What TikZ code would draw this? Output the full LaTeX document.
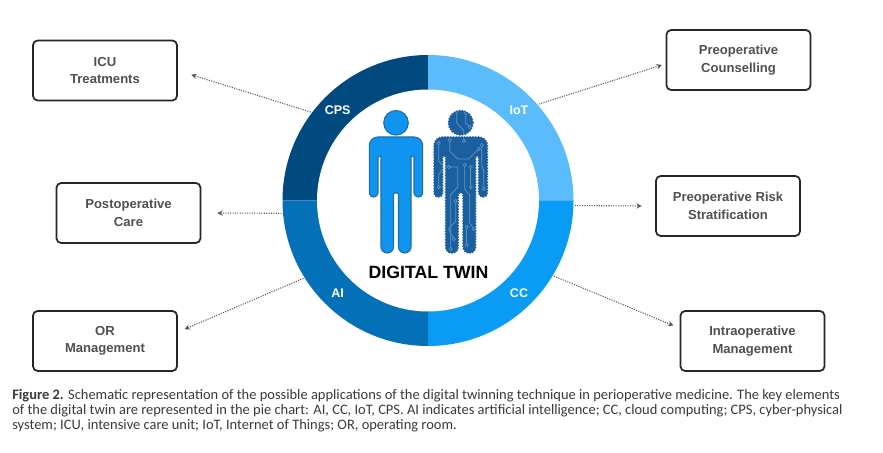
\documentclass[tikz,border=0pt]{standalone}
\usepackage{fontspec}
\setmainfont{Liberation Sans}
\newfontfamily\captionfont{Carlito}
\usetikzlibrary{positioning}
\definecolor{cpsblue}{HTML}{004A80}
\definecolor{iotblue}{HTML}{5BBCFB}
\definecolor{ccblue}{HTML}{0A9BF5}
\definecolor{aiblue}{HTML}{0470B8}
\definecolor{humanblue}{HTML}{0F94F0}
\definecolor{humanedge}{HTML}{1F6DA8}
\definecolor{twinblue}{HTML}{1C5F9F}
\definecolor{traceblue}{HTML}{5C97C8}
\definecolor{boxtext}{HTML}{505050}
\definecolor{linkgray}{HTML}{555555}
\definecolor{captiontext}{HTML}{3A3A3A}
\tikzset{
	appbox/.style={draw=black!85, line width=1.3pt, rounded corners=3.5pt, fill=white, minimum width=108pt, minimum height=45pt, inner sep=0pt, align=center, text=boxtext, font=\fontsize{9.8pt}{13pt}\selectfont\bfseries},
	link/.style={->, densely dotted, line width=0.8pt, draw=linkgray},
	ringlabel/.style={text=white, inner sep=0pt, font=\fontsize{9.4pt}{11pt}\selectfont\bfseries},
	trace/.style={draw=traceblue, line width=0.55pt},
}
% outline of one figure, origin at the middle of the shoulders
\newcommand{\personshape}{
	(0,14.2) circle (12.3)
	(0,0) [rounded corners=6.5pt] -- (26.7,0) [rounded corners=3pt] -- (26.7,-60) -- (18,-60) [rounded corners=0.8pt] -- (18,-19) -- (15,-19) [rounded corners=4.5pt] -- (15,-116) -- (2.5,-116) [rounded corners=0.8pt] -- (2.5,-56) -- (-2.5,-56) [rounded corners=4.5pt] -- (-2.5,-116) -- (-15,-116) [rounded corners=0.8pt] -- (-15,-19) -- (-18,-19) [rounded corners=3pt] -- (-18,-60) -- (-26.7,-60) [rounded corners=6.5pt] -- (-26.7,0) -- cycle
}
\begin{document}
\begin{tikzpicture}[x=0.75pt, y=0.75pt, >=stealth]
	\fill[white] (0,0) rectangle (883,453);
	\useasboundingbox (0,0) rectangle (883,453);
	% ring
	\fill[cpsblue] (428,252.5) -- (282.5,252.5) arc[start angle=180, end angle=90, radius=145.5] -- cycle;
	\fill[iotblue] (428,252.5) -- (428,398) arc[start angle=90, end angle=0, radius=145.5] -- cycle;
	\fill[ccblue] (428,252.5) -- (573.5,252.5) arc[start angle=0, end angle=-90, radius=145.5] -- cycle;
	\fill[aiblue] (428,252.5) -- (428,107) arc[start angle=-90, end angle=-180, radius=145.5] -- cycle;
	\fill[white] (428,252.5) circle (111);
	\node[circle, minimum size=220pt, inner sep=0pt] (ring) at (428,252.5) {};
	\node[ringlabel] (cps) at (337.7,343) {CPS};
	\node[ringlabel] (iot) at (519,343) {IoT};
	\node[ringlabel] (ai) at (337.7,160) {AI};
	\node[ringlabel] (cc) at (519,160) {CC};
	% human
	\begin{scope}[shift={(396,316)}]
		\filldraw[fill=humanblue, draw=humanedge, line width=0.8pt] \personshape;
	\end{scope}
	% twin
	\begin{scope}[shift={(460.7,316)}]
		\fill[twinblue] \personshape;
		\begin{scope}
			\clip \personshape;
			\draw[trace] (-4,26) -- (-4,14) -- (3,7) -- (3,-4);
			\draw[trace] (5,24) -- (5,14) -- (9,10);
			\draw[trace] (-22,-6) -- (-22,-24) -- (-17,-30) -- (-22,-38) -- (-22,-50);
			\draw[trace] (-11,-3) -- (-11,-14) -- (-3,-22) -- (8,-22) -- (18,-12);
			\draw[trace] (-12,-30) -- (-3,-30) -- (-3,-50) -- (-10,-58) -- (-10,-112);
			\draw[trace] (4,-28) -- (4,-52) -- (9,-58) -- (9,-86) -- (13,-92);
			\draw[trace] (10,-30) -- (10,-50);
			\draw[trace] (21,-8) -- (21,-28) -- (23,-34) -- (23,-52);
			\draw[trace] (-5,-64) -- (-5,-84) -- (-12,-92) -- (-7,-102);
			\draw[trace] (6,-90) -- (6,-108);
			\foreach \tx/\ty in {-4/26, 5/24, 9/10, 3/-4, -22/-6, -17/-30, -22/-50, -11/-3, 18/-12, -12/-30, 4/-28, 10/-30, 13/-92, 21/-8, 23/-52, -5/-64, -7/-102, 6/-90, 6/-108, 10/-50, -10/-112} {
				\filldraw[fill=twinblue, draw=traceblue, line width=0.5pt] (\tx,\ty) circle (1.7);
			}
		\end{scope}
		\draw[twinblue, line width=1.1pt, densely dotted] \personshape;
	\end{scope}
	\node[inner sep=0pt, font=\fontsize{13.3pt}{15pt}\selectfont\bfseries] (title) at (428.5,181) {DIGITAL TWIN};
	% boxes
	\node[appbox] (icu) at (105,382.5) {ICU\\Treatments};
	\node[appbox] (counsel) at (738.5,393) {Preoperative\\Counselling};
	\node[appbox] (postop) at (128.5,240) {Postoperative\\Care};
	\node[appbox] (risk) at (728,247) {Preoperative Risk\\Stratification};
	\node[appbox] (ormgmt) at (105,112) {OR\\Management};
	\node[appbox] (intraop) at (752.5,112) {Intraoperative\\Management};
	% arrows
	\draw[link, shorten >=10.5pt] (ring.143) -- (icu.east);
	\draw[link, shorten >=3pt] (ring.41) -- (counsel.183);
	\draw[link, shorten >=12pt] (ring.185) -- (postop.east);
	\draw[link, shorten >=10pt] (ring.-2) -- (risk.west);
	\draw[link, shorten >=5.5pt] (ring.212) -- (ormgmt.7);
	\draw[link, shorten >=5pt] (ring.-31) -- (intraop.170);
	% caption
	\node[anchor=north west, inner sep=0pt, align=left, text=captiontext, font=\captionfont\fontsize{10.85pt}{11pt}\selectfont] (caption) at (12,63.5) {\textbf{Figure 2.} Schematic representation of the possible applications of the digital twinning technique in perioperative medicine. The key elements\\of the digital twin are represented in the pie chart: AI, CC, IoT, CPS. AI indicates artificial intelligence; CC, cloud computing; CPS, cyber-physical\\system; ICU, intensive care unit; IoT, Internet of Things; OR, operating room.};
\end{tikzpicture}
\end{document}
